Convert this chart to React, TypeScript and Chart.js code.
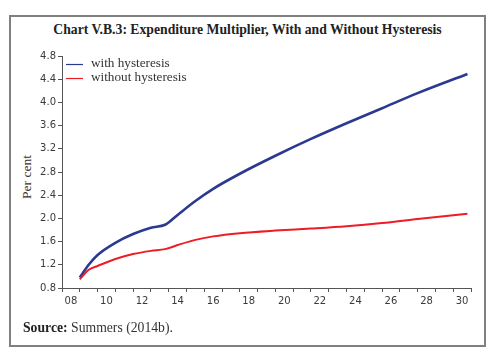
import React, { useEffect, useRef } from "react";
import { Chart, registerables } from "chart.js";

Chart.register(...registerables);

// Years (fractional, continuous time axis)
const years = [2009.0, 2009.5, 2010, 2011, 2012, 2013, 2013.8, 2014.5, 2015.5, 2016.5, 2018, 2020, 2022, 2024, 2026, 2028, 2030.8];
const withHysteresis = [0.98, 1.2, 1.37, 1.58, 1.73, 1.84, 1.89, 2.06, 2.3, 2.51, 2.77, 3.08, 3.37, 3.64, 3.9, 4.16, 4.49];
const withoutHysteresis = [0.95, 1.115, 1.18, 1.3, 1.385, 1.44, 1.47, 1.54, 1.63, 1.69, 1.745, 1.79, 1.825, 1.865, 1.92, 1.99, 2.08];

const yTicks = [0.8, 1.2, 1.6, 2.0, 2.4, 2.8, 3.2, 3.6, 4.0, 4.4, 4.8];
const xLabelYears = [2008, 2010, 2012, 2014, 2016, 2018, 2020, 2022, 2024, 2026, 2028, 2030];
const xMin = 2008;
const xMax = 2031;

const seriesNames = ["with hysteresis", "without hysteresis"];
const seriesColors = ["#2b3990", "#ee1c25"];

const legendPlugin = {
  id: "innerLegend",
  afterDraw(chart: any) {
    const ctx = chart.ctx;
    ctx.save();
    const rows = [64, 78];
    seriesNames.forEach((name, i) => {
      const y = rows[i];
      ctx.strokeStyle = seriesColors[i];
      ctx.lineWidth = 1.2;
      ctx.beginPath();
      ctx.moveTo(66, y + 0.5);
      ctx.lineTo(83, y + 0.5);
      ctx.stroke();
      ctx.fillStyle = "#333";
      ctx.font = "13.2px 'Liberation Serif'";
      ctx.textBaseline = "middle";
      ctx.textAlign = "left";
      ctx.fillText(name, 91, y);
    });
    ctx.restore();
  },
};

export default function App() {
  const ref = useRef<HTMLCanvasElement>(null);
  useEffect(() => {
    if (!ref.current) return;
    const xTickValues: number[] = [];
    for (let v = xMin; v <= xMax; v += 0.5) xTickValues.push(v);
    const chart = new Chart(ref.current, {
      type: "line",
      data: {
        datasets: [
          {
            label: seriesNames[1],
            data: years.map((x, i) => ({ x, y: withoutHysteresis[i] })),
            borderColor: seriesColors[1],
            borderWidth: 2,
            pointRadius: 0,
            cubicInterpolationMode: "monotone",
          },
          {
            label: seriesNames[0],
            data: years.map((x, i) => ({ x, y: withHysteresis[i] })),
            borderColor: seriesColors[0],
            borderWidth: 2.6,
            pointRadius: 0,
            cubicInterpolationMode: "monotone",
          },
        ],
      },
      options: {
        animation: false,
        responsive: false,
        layout: { padding: { left: 0, right: 24, top: 56, bottom: 0 } },
        plugins: { legend: { display: false }, tooltip: { enabled: false } },
        scales: {
          x: {
            type: "linear",
            min: xMin,
            max: xMax,
            afterBuildTicks: (s: any) => {
              s.ticks = xTickValues.map((v) => ({ value: v }));
            },
            afterFit: (s: any) => {
              s.height = 70;
            },
            border: { color: "#555", width: 1 },
            grid: {
              drawOnChartArea: false,
              tickLength: 4,
              color: (c: any) => (c.tick && Number.isInteger(c.tick.value) ? "#555" : "rgba(0,0,0,0)"),
              tickColor: (c: any) => (c.tick && Number.isInteger(c.tick.value) ? "#555" : "rgba(0,0,0,0)"),
            },
            ticks: {
              autoSkip: false,
              maxRotation: 0,
              padding: 3,
              color: "#3a3a3a",
              font: { family: "'DejaVu Sans'", size: 10 },
              callback: (v: any) => {
                const base = Math.floor(v);
                if (v - base === 0.5 && xLabelYears.includes(base)) {
                  return String(base % 100).padStart(2, "0");
                }
                return "";
              },
            },
          },
          y: {
            min: 0.8,
            max: 4.8,
            afterBuildTicks: (s: any) => {
              s.ticks = yTicks.map((v) => ({ value: v }));
            },
            afterFit: (s: any) => {
              s.width = 62;
            },
            border: { color: "#555", width: 1 },
            grid: { drawOnChartArea: false, tickLength: 4, color: "#555" },
            ticks: {
              padding: 2,
              color: "#3a3a3a",
              font: { family: "'DejaVu Sans'", size: 10 },
              callback: (v: any) => Number(v).toFixed(1),
            },
          },
        },
      },
      plugins: [legendPlugin],
    });
    return () => chart.destroy();
  }, []);

  return (
    <div style={{ position: "absolute", left: 0, top: 0, width: 495, height: 358, background: "#fff", overflow: "hidden" }}>
      <div
        style={{
          position: "absolute",
          left: 9,
          top: 15,
          width: 477,
          height: 332,
          border: "2px solid #808080",
          boxSizing: "border-box",
        }}
      />
      <div
        style={{
          position: "absolute",
          left: 0,
          top: 22,
          width: 495,
          textAlign: "center",
          fontFamily: "'Liberation Serif', serif",
          fontWeight: "bold",
          fontSize: 13.7,
          color: "#222",
          lineHeight: "16px",
        }}
      >
        Chart V.B.3: Expenditure Multiplier, With and Without Hysteresis
      </div>
      <div
        style={{
          position: "absolute",
          left: 27 - 40,
          top: 177 - 8,
          width: 80,
          height: 16,
          lineHeight: "16px",
          textAlign: "center",
          transform: "rotate(-90deg)",
          fontFamily: "'Liberation Serif', serif",
          fontSize: 13.5,
          color: "#333",
        }}
      >
        Per cent
      </div>
      <canvas ref={ref} width={495} height={358} style={{ position: "absolute", left: 0, top: 0, width: 495, height: 358 }} />
      <div
        style={{
          position: "absolute",
          left: 23,
          top: 320,
          fontFamily: "'Liberation Serif', serif",
          fontSize: 13.7,
          color: "#333",
          lineHeight: "16px",
        }}
      >
        <b style={{ color: "#222" }}>Source:</b> Summers (2014b).
      </div>
    </div>
  );
}
